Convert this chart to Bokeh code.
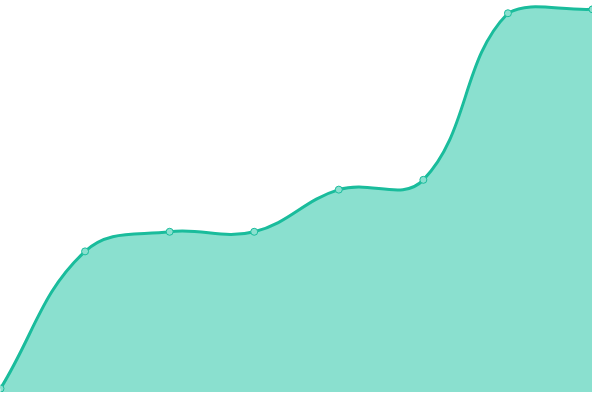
from bokeh.plotting import figure
from bokeh.models import Range1d
from bokeh.embed import file_html
from bokeh.resources import INLINE

# data
categories = [0, 1, 2, 3, 4, 5, 6, 7]
values = [4, 144, 164, 164, 207, 217, 387, 391]
y_max = 400

LINE = "#1abc9c"
FILL = "#8ae0cf"

W, H = 592, 392
p = figure(width=W, height=H, output_backend="svg", toolbar_location=None,
           x_range=Range1d(categories[0], categories[-1]), y_range=Range1d(0, y_max),
           x_axis_location=None, y_axis_location=None, min_border=0,
           outline_line_color=None, background_fill_color="white",
           border_fill_color="white")
p.grid.visible = False

# spline control points (cardinal smoothing, tension 0.4), computed in
# screen-proportional space from the data, capped to the chart area
t = 0.4
px_per_x = 600 / 7.0
n = len(categories)
sx = [c * px_per_x for c in categories]
sy = list(values)
cp_prev, cp_next = [], []


def cap(v):
    return min(max(v, 0), y_max)


for i in range(n):
    pi = max(i - 1, 0)
    ni = min(i + 1, n - 1)
    d01 = ((sx[i] - sx[pi]) ** 2 + (sy[i] - sy[pi]) ** 2) ** 0.5
    d12 = ((sx[ni] - sx[i]) ** 2 + (sy[ni] - sy[i]) ** 2) ** 0.5
    tot = d01 + d12
    s01 = d01 / tot if tot else 0
    s12 = d12 / tot if tot else 0
    fa, fb = t * s01, t * s12
    dx, dy = sx[ni] - sx[pi], sy[ni] - sy[pi]
    cp_prev.append((sx[i] - fa * dx, cap(sy[i] - fa * dy)))
    cp_next.append((sx[i] + fb * dx, cap(sy[i] + fb * dy)))

x0s, y0s, x1s, y1s, cx0, cy0, cx1, cy1 = [], [], [], [], [], [], [], []
curve_x, curve_y = [], []
steps = 40
for i in range(n - 1):
    P0 = (sx[i], sy[i])
    P1 = cp_next[i]
    P2 = cp_prev[i + 1]
    P3 = (sx[i + 1], sy[i + 1])
    x0s.append(P0[0] / px_per_x); y0s.append(P0[1])
    x1s.append(P3[0] / px_per_x); y1s.append(P3[1])
    cx0.append(P1[0] / px_per_x); cy0.append(P1[1])
    cx1.append(P2[0] / px_per_x); cy1.append(P2[1])
    for k in range(steps + (1 if i == n - 2 else 0)):
        u = k / steps
        a = (1 - u) ** 3; b = 3 * u * (1 - u) ** 2; c = 3 * u * u * (1 - u); d = u ** 3
        curve_x.append((a * P0[0] + b * P1[0] + c * P2[0] + d * P3[0]) / px_per_x)
        curve_y.append(a * P0[1] + b * P1[1] + c * P2[1] + d * P3[1])

patch_x = [categories[0]] + curve_x + [categories[-1]]
patch_y = [0] + curve_y + [0]
p.patch(patch_x, patch_y, fill_color=FILL, line_color=None)
p.bezier(x0=x0s, y0=y0s, x1=x1s, y1=y1s, cx0=cx0, cy0=cy0, cx1=cx1, cy1=cy1,
         line_color=LINE, line_width=3)
p.scatter(categories, values, size=7, fill_color=FILL, line_color=LINE, line_width=1)

open("out.html", "w").write(file_html(p, INLINE))
